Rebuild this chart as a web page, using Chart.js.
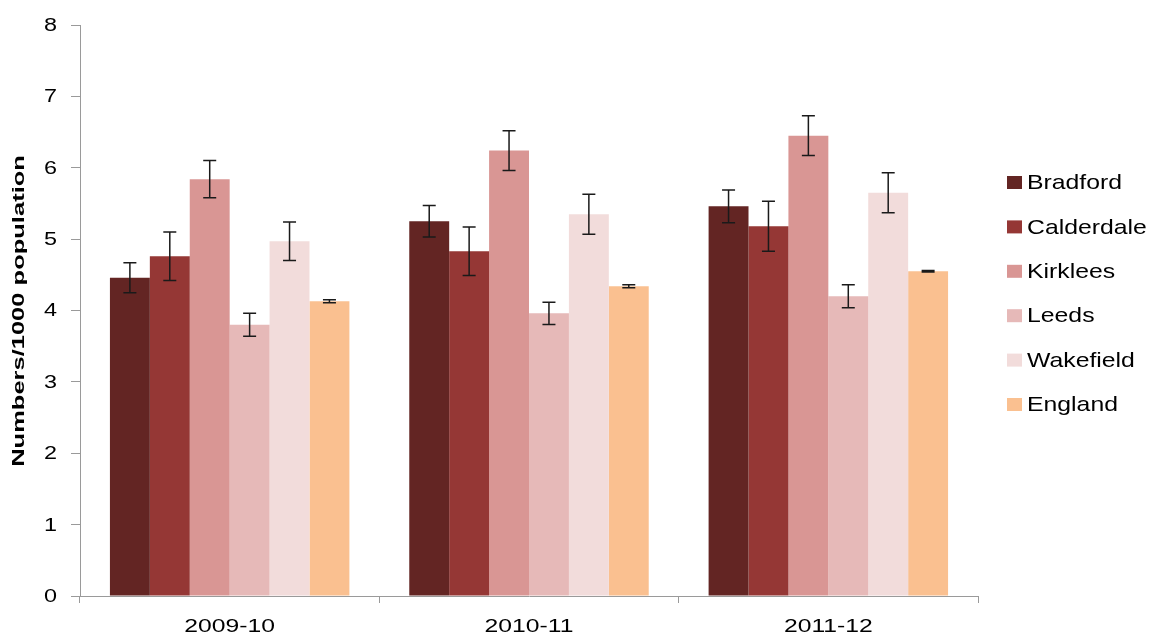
<!DOCTYPE html>
<html>
<head>
<meta charset="utf-8">
<script src="https://cdn.jsdelivr.net/npm/chart.js@4/dist/chart.umd.min.js"></script>
<style>
  html, body { margin: 0; padding: 0; background: #fff; }
  #wrap { width: 1153px; height: 637px; position: relative; }
</style>
</head>
<body>
<div id="wrap"><canvas id="c"></canvas></div>
<script>
// categories and values
const years = ['2009-10', '2010-11', '2011-12'];
const areas = ['Bradford', 'Calderdale', 'Kirklees', 'Leeds', 'Wakefield', 'England'];
const colours = ['#632523', '#953735', '#D99694', '#E6B9B8', '#F2DCDB', '#FAC090'];

const bradford   = [4.46, 5.25, 5.46];
const calderdale = [4.76, 4.83, 5.18];
const kirklees   = [5.84, 6.24, 6.45];
const leeds      = [3.80, 3.96, 4.20];
const wakefield  = [4.97, 5.35, 5.65];
const england    = [4.13, 4.34, 4.55];

// half width of the error bars
const bradfordErr   = [0.21, 0.22, 0.23];
const calderdaleErr = [0.34, 0.34, 0.35];
const kirkleesErr   = [0.26, 0.28, 0.28];
const leedsErr      = [0.16, 0.155, 0.16];
const wakefieldErr  = [0.27, 0.28, 0.28];
const englandErr    = [0.02, 0.02, 0.01];

const yTicks = [0, 1, 2, 3, 4, 5, 6, 7, 8];
const yTitle = 'Numbers/1000 population';

const values = [bradford, calderdale, kirklees, leeds, wakefield, england];
const errors = [bradfordErr, calderdaleErr, kirkleesErr, leedsErr, wakefieldErr, englandErr];

const axisGrey = '#9a9a9a';
const FONT = '"Liberation Sans", Arial, sans-serif';

// the original's text is drawn wide, so stretch it along its line
function wideText(ctx, text, x, y, sx, align, baseline, rot) {
    ctx.save();
    ctx.translate(x, y);
    if (rot) ctx.rotate(rot);
    ctx.scale(sx, 1);
    ctx.textAlign = align;
    ctx.textBaseline = baseline;
    ctx.fillText(text, 0, 0);
    ctx.restore();
}

// error bars, drawn on top of each bar through the y scale
const errorBars = {
    id: 'errorBars',
    afterDatasetsDraw(chart) {
        const ctx = chart.ctx;
        const y = chart.scales.y;
        ctx.save();
        ctx.strokeStyle = '#1a1a1a';
        ctx.lineWidth = 1.5;
        chart.data.datasets.forEach((ds, i) => {
            const meta = chart.getDatasetMeta(i);
            meta.data.forEach((bar, j) => {
                const v = ds.data[j];
                const e = ds.err[j];
                const top = y.getPixelForValue(v + e);
                const bot = y.getPixelForValue(v - e);
                const x = bar.x;
                const cap = 6.5;
                ctx.beginPath();
                ctx.moveTo(x, top); ctx.lineTo(x, bot);
                ctx.moveTo(x - cap, top); ctx.lineTo(x + cap, top);
                ctx.moveTo(x - cap, bot); ctx.lineTo(x + cap, bot);
                ctx.stroke();
            });
        });
        ctx.restore();
    }
};

// tick labels, axis title and legend
const labelsAndLegend = {
    id: 'labelsAndLegend',
    afterDraw(chart) {
        const ctx = chart.ctx;
        const xs = chart.scales.x;
        const ys = chart.scales.y;
        ctx.save();
        ctx.fillStyle = '#000';

        ctx.font = '19px ' + FONT;
        xs.ticks.forEach((t, i) => {
            wideText(ctx, years[i], xs.getPixelForTick(i), 632, 1.3, 'center', 'alphabetic');
        });

        ctx.font = '18px ' + FONT;
        ys.ticks.forEach((t, i) => {
            wideText(ctx, String(t.value), 57, ys.getPixelForTick(i) + 1, 1.3, 'right', 'middle');
        });

        ctx.font = 'bold 17px ' + FONT;
        wideText(ctx, yTitle, 24, 311, 1.5, 'center', 'alphabetic', -Math.PI / 2);

        ctx.font = '21px ' + FONT;
        chart.data.datasets.forEach((ds, i) => {
            const cy = 182.5 + i * 44.4;
            ctx.fillStyle = ds.backgroundColor;
            ctx.fillRect(1007, cy - 6.5, 15, 13);
            ctx.fillStyle = '#000';
            wideText(ctx, ds.label, 1027, cy + 1, 1.18, 'left', 'middle');
        });
        ctx.restore();
    }
};

const datasets = areas.map((name, i) => ({
    label: name,
    data: values[i],
    err: errors[i],
    backgroundColor: colours[i],
    borderWidth: 0,
    categoryPercentage: 0.8,
    barPercentage: 1.0
}));

new Chart(document.getElementById('c'), {
    type: 'bar',
    data: { labels: years, datasets: datasets },
    options: {
        responsive: true,
        maintainAspectRatio: false,
        animation: false,
        layout: { padding: { top: 25, right: 175, bottom: 0, left: 0 } },
        plugins: {
            legend: { display: false },
            tooltip: { enabled: false }
        },
        scales: {
            x: {
                grid: {
                    display: true,
                    drawOnChartArea: false,
                    drawTicks: true,
                    tickLength: 7,
                    color: axisGrey,
                    offset: true
                },
                border: { color: axisGrey, width: 1 },
                ticks: {
                    color: 'rgba(0,0,0,0)',
                    padding: 6,
                    font: { family: FONT, size: 18 }
                },
                afterFit(scale) { scale.height = 41; }
            },
            y: {
                min: 0,
                max: 8,
                afterBuildTicks(scale) { scale.ticks = yTicks.map(v => ({ value: v })); },
                grid: {
                    display: true,
                    drawOnChartArea: false,
                    drawTicks: true,
                    tickLength: 9,
                    color: axisGrey
                },
                border: { color: axisGrey, width: 1 },
                ticks: {
                    color: 'rgba(0,0,0,0)',
                    padding: 12,
                    font: { family: FONT, size: 18 }
                },
                afterFit(scale) { scale.width = 80; }
            }
        }
    },
    plugins: [errorBars, labelsAndLegend]
});
</script>
</body>
</html>
